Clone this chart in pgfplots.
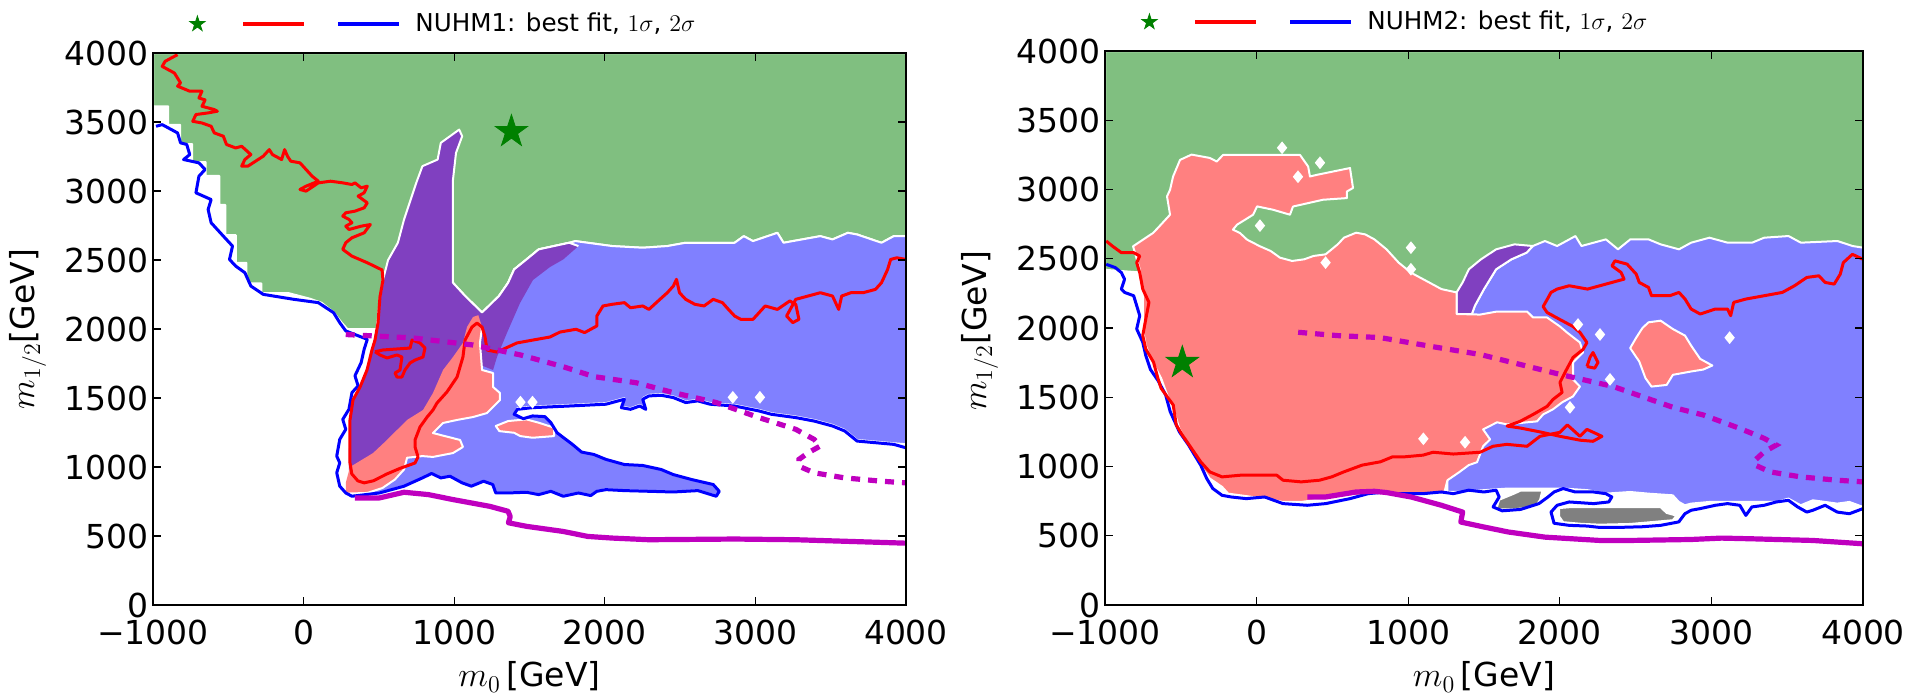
\documentclass[border=0pt]{standalone}
\usepackage{fontspec}
\setmainfont{DejaVu Sans}
\usepackage{pgfplots}
\pgfplotsset{compat=1.18}

\definecolor{cgreen}{RGB}{128,191,128}
\definecolor{cblue}{RGB}{128,128,255}
\definecolor{csalmon}{RGB}{255,128,128}
\definecolor{cpurple}{RGB}{128,64,192}
\definecolor{cgray}{RGB}{128,128,128}
\definecolor{cmag}{RGB}{191,0,191}
\definecolor{cstar}{RGB}{0,128,0}

\pgfdeclareplotmark{fstar}{%
  \pgfpathmoveto{\pgfpointpolar{90}{\pgfplotmarksize}}%
  \pgfpathlineto{\pgfpointpolar{126}{0.382*\pgfplotmarksize}}%
  \pgfpathlineto{\pgfpointpolar{162}{\pgfplotmarksize}}%
  \pgfpathlineto{\pgfpointpolar{198}{0.382*\pgfplotmarksize}}%
  \pgfpathlineto{\pgfpointpolar{234}{\pgfplotmarksize}}%
  \pgfpathlineto{\pgfpointpolar{270}{0.382*\pgfplotmarksize}}%
  \pgfpathlineto{\pgfpointpolar{306}{\pgfplotmarksize}}%
  \pgfpathlineto{\pgfpointpolar{342}{0.382*\pgfplotmarksize}}%
  \pgfpathlineto{\pgfpointpolar{18}{\pgfplotmarksize}}%
  \pgfpathlineto{\pgfpointpolar{54}{0.382*\pgfplotmarksize}}%
  \pgfpathclose
  \pgfusepathqfillstroke
}

% small white diamond-shaped gaps of the contour grid
\pgfdeclareplotmark{wdiam}{%
  \pgfpathmoveto{\pgfqpoint{0pt}{3.2pt}}%
  \pgfpathlineto{\pgfqpoint{2.6pt}{0pt}}%
  \pgfpathlineto{\pgfqpoint{0pt}{-3.2pt}}%
  \pgfpathlineto{\pgfqpoint{-2.6pt}{0pt}}%
  \pgfpathclose
  \pgfusepathqfill
}

\newcommand{\labfont}{\fontsize{16.5}{19}\selectfont}

\pgfplotsset{
  panel/.style={
    scale only axis, anchor=south west,
    xmin=-1000, xmax=4000, ymin=0, ymax=4000,
    xtick={-1000,0,1000,2000,3000,4000},
    xticklabels={−1000,0,1000,2000,3000,4000},
    ytick={0,500,1000,1500,2000,2500,3000,3500,4000},
    yticklabels={0,500,1000,1500,2000,2500,3000,3500,4000},
    tick align=inside, tick pos=both,
    major tick length=4pt,
    axis line style={line width=0.8pt},
    every tick/.style={black, line width=0.6pt},
    ticklabel style={font=\labfont},
    yticklabel style={inner xsep=2.2pt, inner ysep=0pt},
    xticklabel style={inner ysep=0pt, yshift=-7.5pt},
    xlabel={$m_0$\,[GeV]},
    ylabel={$m_{1/2}$[GeV]},
    every axis x label/.style={at={(axis description cs:0.5,0)}, yshift=-36pt, anchor=center, font=\labfont},
    every axis y label/.style={at={(axis description cs:0,0.5)}, xshift=-62.7pt, rotate=90, anchor=center, font=\labfont},
    axis on top,
    legend style={draw=none, fill=none, at={(axis description cs:0,1)}, anchor=west,
      xshift=18pt, yshift=14.5pt, inner xsep=0pt, inner ysep=0pt,
      font=\fontsize{12.3}{14}\selectfont},
  },
  fillreg/.style={draw=white, line width=1pt, line join=round, forget plot},
  cline/.style={line width=1.5pt, line join=round, forget plot},
  gaps/.style={forget plot, only marks, mark=wdiam, mark options={fill=white, draw=none}},
  legimg/.style={legend image code/.code={
    \path[draw=none, fill=none] (0pt,-4pt) rectangle (111pt,4pt);
    \fill[cstar, shift={(4pt,0pt)}] (90:4pt) -- (126:1.53pt) -- (162:4pt) -- (198:1.53pt) -- (234:4pt) -- (270:1.53pt) -- (306:4pt) -- (342:1.53pt) -- (18:4pt) -- (54:1.53pt) -- cycle;
    \draw[red, line width=2pt] (27pt,0pt) -- (57.5pt,0pt);
    \draw[blue, line width=2pt] (74.5pt,0pt) -- (105pt,0pt);
  }},
}

\begin{document}
\begin{tikzpicture}
\useasboundingbox (0,0) rectangle (957.5pt,348pt);

%================ LEFT PANEL: NUHM1 ================
\begin{axis}[panel, at={(76.5pt,45.5pt)}, width=376.5pt, height=276pt]
\addlegendimage{legimg}
\addlegendentry{NUHM1: best fit, $1\sigma$, $2\sigma$}

% green region
\addplot[fillreg, fill=cgreen] coordinates {
(-1000,4000) (4000,4000) (4000,2673) (3919,2673) (3837,2625) (3675,2685) (3614,2697) (3512,2649) (3431,2673) (3187,2625) (3146,2697) (2984,2637) (2923,2673) (2862,2625) (2537,2625) (2415,2601) (2252,2589) (2049,2601) (1805,2637) (1764,2625) (1561,2577) (1480,2504) (1398,2432) (1358,2335) (1297,2239) (1185,2120) (1073,2239) (992,2335) (900,2250) (545,1998) (290,2000) (250,2050) (200,2120) (120,2190) (40,2220) (-100,2260) (-280,2260) (-280,2330) (-380,2330) (-380,2480) (-450,2480) (-450,2680) (-520,2680) (-520,2900) (-560,2900) (-560,3110) (-650,3110) (-650,3210) (-740,3210) (-740,3340) (-820,3340) (-820,3480) (-900,3480) (-900,3614) (-1000,3614)
} -- cycle;

% blue region
\addplot[fillreg, fill=cblue] coordinates {
(487,2014) (1185,2100) (1297,2239) (1358,2335) (1398,2432) (1480,2504) (1561,2577) (1764,2625) (1805,2637) (2049,2601) (2252,2589) (2415,2601) (2537,2625) (2862,2625) (2923,2673) (2984,2637) (3146,2697) (3187,2625) (3431,2673) (3512,2649) (3614,2697) (3675,2685) (3837,2625) (3919,2673) (4000,2673)
(4000,1165) (3919,1172) (3797,1184) (3675,1196) (3593,1269) (3512,1305) (3390,1341) (3268,1366) (3106,1390) (3024,1414) (2862,1450) (2699,1463) (2618,1487) (2537,1475) (2455,1511) (2374,1528) (2293,1523) (2252,1499) (2272,1426) (2232,1450) (2171,1426) (2110,1438) (2130,1499) (2089,1487) (2008,1463) (1764,1450) (1520,1438) (1419,1426) (1398,1382) (1459,1350) (1520,1370) (1602,1365) (1642,1321) (1683,1248) (1785,1164) (1846,1108) (1927,1091) (2008,1055) (2130,1018) (2252,1011) (2374,982) (2455,945) (2577,909) (2720,873) (2760,824) (2740,790) (2618,830) (2455,821) (2293,826) (2130,831) (2008,838) (1947,826) (1907,795) (1825,814) (1724,790) (1642,826) (1561,802) (1480,819) (1358,814) (1276,814) (1256,873) (1195,897) (1114,861) (1053,885) (972,933) (911,921) (850,953) (789,921) (667,861) (504,814) (321,790) (300,1000) (330,1300) (420,1725)
} -- cycle;
\addplot[gaps] coordinates {(1440,1470) (1520,1470) (2850,1505) (3030,1505)};

% purple region
\addplot[forget plot, fill=cpurple, draw=none] coordinates {
(1033,3445) (1053,3397) (1012,3276) (992,3083) (992,2335) (1073,2239) (1185,2120) (1297,2239) (1358,2335) (1398,2432) (1480,2504) (1561,2577) (1764,2625) (1825,2601) (1724,2504) (1636,2449) (1523,2355) (1437,2188) (1350,1971) (1284,1797) (1258,1703) (1150,1750) (1058,1850) (992,1750) (926,1650) (859,1500) (793,1380) (687,1300) (554,1160) (461,1070) (300,975) (300,1100) (308,1290) (328,1486) (375,1580) (421,1725) (454,1870) (487,2014) (507,2232) (527,2355) (561,2500) (626,2625) (667,2794) (748,3059) (789,3180) (890,3228) (911,3349)
} -- cycle;
\addplot[forget plot, white, line width=1pt, line join=round] coordinates {
(487,2014) (507,2232) (527,2355) (561,2500) (626,2625) (667,2794) (748,3059) (789,3180) (890,3228) (911,3349) (1033,3445) (1053,3397) (1012,3276) (992,3083) (992,2335) (1073,2239) (1185,2120) (1297,2239) (1358,2335) (1398,2432) (1480,2504) (1561,2577) (1764,2625) (1825,2601)
};

% salmon regions
\addplot[forget plot, fill=csalmon, draw=none] coordinates {
(1125,2087) (1160,2100) (1185,2014) (1171,1899) (1185,1703) (1258,1681) (1258,1580) (1304,1536) (1304,1486) (1258,1435) (1218,1391) (1125,1362) (1019,1341) (926,1319) (859,1246) (1039,1196) (1058,1145) (992,1101) (859,1073) (789,1079) (687,1067) (667,982) (606,909) (524,848) (423,812) (280,807) (280,885) (308,1000) (461,1101) (554,1196) (687,1341) (793,1413) (859,1536) (926,1703) (992,1797) (1058,1899) (1085,2014)
} -- cycle;
\addplot[forget plot, white, line width=1pt, line join=round] coordinates {
(1185,2014) (1171,1899) (1185,1703) (1258,1681) (1258,1580) (1304,1536) (1304,1486) (1258,1435) (1218,1391) (1125,1362) (1019,1341) (926,1319) (859,1246) (1039,1196) (1058,1145) (992,1101) (859,1073) (789,1079) (687,1067) (667,982) (606,909) (524,848) (423,812) (280,807)
};
\addplot[fillreg, fill=csalmon] coordinates {
(1276,1297) (1358,1333) (1480,1345) (1561,1321) (1663,1285) (1663,1224) (1520,1212) (1439,1224) (1398,1248) (1300,1260)
} -- cycle;

% blue line (2 sigma)
\addplot[cline, blue] coordinates {
(-980,3469) (-939,3481) (-837,3421) (-817,3349) (-776,3337) (-756,3264) (-797,3228) (-695,3204) (-654,3156) (-695,3107) (-715,2987) (-614,2938) (-634,2866) (-614,2770) (-533,2673) (-472,2601) (-492,2504) (-451,2456) (-390,2408) (-350,2311) (-268,2251) (-65,2215) (98,2191) (199,2118) (240,2046) (280,1986) (423,1925) (402,1853) (382,1756) (341,1661) (362,1588) (321,1539) (301,1418) (260,1345) (280,1273) (240,1200) (220,1079) (240,1030) (220,958) (240,861) (280,812) (321,788) (504,812) (667,861) (789,921) (850,953) (911,921) (972,933) (1053,885) (1114,861) (1195,897) (1256,873) (1276,812) (1358,812) (1480,817) (1561,800) (1642,824) (1724,788) (1825,812) (1907,793) (1947,824) (2008,836) (2130,829) (2293,824) (2455,819) (2618,829) (2740,788) (2760,824) (2720,873) (2577,909) (2455,945) (2374,982) (2252,1011) (2130,1018) (2008,1055) (1927,1091) (1846,1108) (1785,1164) (1683,1248) (1642,1321) (1602,1365) (1520,1370) (1459,1350) (1398,1382) (1419,1418) (1520,1430) (1764,1442) (2008,1455) (2089,1479) (2130,1491) (2110,1430) (2171,1418) (2232,1442) (2272,1418) (2252,1491) (2293,1515) (2374,1520) (2455,1503) (2537,1467) (2618,1479) (2699,1455) (2862,1442) (3024,1406) (3106,1382) (3268,1358) (3390,1333) (3512,1297) (3593,1261) (3675,1188) (3797,1176) (3919,1164) (4000,1139)
};

% red line (1 sigma)
\addplot[cline, red] coordinates {
(-837,3988) (-919,3940) (-939,3903) (-858,3855) (-817,3783) (-837,3760) (-756,3723) (-675,3723) (-695,3674) (-654,3660) (-675,3614) (-593,3590) (-573,3578) (-634,3566) (-715,3554) (-736,3505) (-675,3493) (-614,3469) (-593,3421) (-533,3397) (-512,3337) (-451,3312) (-411,3324) (-350,3264) (-390,3228) (-411,3180) (-370,3180) (-268,3252) (-228,3300) (-207,3264) (-146,3228) (-126,3300) (-106,3250) (-85,3216) (-24,3204) (16,3156) (57,3107) (98,3071) (16,3035) (-24,3011) (16,2999) (98,3059) (179,3071) (260,3059) (321,3047) (341,3059) (382,3023) (423,3035) (402,2987) (362,2963) (423,2914) (402,2878) (341,2854) (280,2842) (260,2818) (301,2794) (321,2770) (280,2745) (301,2721) (382,2745) (443,2757) (402,2697) (321,2661) (280,2625) (260,2577) (321,2528) (423,2480) (521,2428) (527,2355) (507,2232) (494,2043) (474,1920) (454,1848) (421,1703) (375,1580) (328,1486) (308,1341) (308,1145) (308,1029) (320,950) (360,900) (402,885) (463,900) (554,950) (640,990) (740,1029) (760,1073) (740,1145) (740,1196) (773,1290) (820,1362) (859,1413) (886,1464) (952,1544) (1019,1652) (1058,1797) (1072,1920) (1118,2014) (1151,2043) (1185,2014) (1205,1942) (1218,1848) (1284,1833) (1417,1899) (1523,1920) (1636,1942) (1703,1978) (1809,1998) (1866,1974) (1947,2022) (1947,2094) (1988,2167) (2049,2179) (2130,2191) (2171,2154) (2252,2167) (2293,2142) (2354,2203) (2415,2263) (2455,2311) (2476,2360) (2496,2263) (2537,2215) (2598,2179) (2659,2167) (2720,2215) (2781,2191) (2821,2142) (2862,2094) (2903,2070) (2984,2070) (3024,2118) (3065,2167) (3146,2142) (3228,2203) (3268,2179) (3289,2070) (3248,2046) (3207,2094) (3268,2215) (3350,2239) (3431,2263) (3512,2239) (3553,2142) (3573,2239) (3634,2263) (3715,2263) (3797,2287) (3837,2335) (3858,2384) (3878,2432) (3898,2504) (3939,2516) (4000,2504)
};
\addplot[cline, red] coordinates {
(474,1835) (527,1848) (707,1862) (720,1920) (773,1899) (806,1862) (793,1797) (740,1775) (707,1754) (673,1703) (653,1652) (620,1652) (607,1681) (640,1703) (653,1797) (620,1812) (554,1790) (507,1812) (474,1835)
};

% magenta lines
\addplot[forget plot, cmag, line width=2.6pt, line join=round] coordinates {
(341,776) (504,776) (667,817) (829,800) (992,764) (1236,715) (1358,679) (1372,640) (1360,596) (1480,570) (1724,533) (1886,497) (2049,485) (2293,473) (2862,478) (3268,473) (4000,448)
};
\addplot[forget plot, cmag, line width=2.6pt, dash pattern=on 4.5pt off 4pt] coordinates {
(280,1960) (727,1935) (1125,1884) (1440,1812) (1723,1727) (1928,1655) (2211,1610) (2455,1539) (2740,1467) (3024,1358) (3268,1273) (3390,1200) (3431,1152) (3350,1103) (3289,1055) (3289,1006) (3390,958) (3593,921) (3837,897) (4000,885)
};

% best fit
\addplot[forget plot, only marks, mark=fstar, mark size=8.5pt, mark options={fill=cstar, draw=cstar, line width=0.4pt}] coordinates {(1380,3430)};
\end{axis}

%================ RIGHT PANEL: NUHM2 ================
\begin{axis}[panel, at={(552.5pt,45.5pt)}, width=379pt, height=277pt,
  every axis y label/.append style={xshift=-1.3pt}]
\addlegendimage{legimg}
\addlegendentry{NUHM2: best fit, $1\sigma$, $2\sigma$}

% green region
\addplot[fillreg, fill=cgreen] coordinates {
(-1000,4000) (4000,4000) (4000,2480) (1420,2380) (1319,2200) (1200,2240) (-1000,2420)
} -- cycle;
\addplot[gaps] coordinates {(168,3301) (418,3193) (22,2739) (1018,2580) (1018,2424)};

% blue region
\addplot[fillreg, fill=cblue] coordinates {
(1259,816) (1259,2101) (1420,2101) (1440,2161) (1500,2281) (1580,2424) (1681,2496) (1781,2544) (1822,2592) (1902,2628) (1982,2592) (2063,2640) (2103,2664) (2143,2592) (2304,2640) (2384,2568) (2465,2640) (2585,2640) (2665,2604) (2786,2568) (2866,2616) (2987,2652) (3107,2616) (3268,2616) (3348,2652) (3509,2664) (3590,2616) (3831,2628) (3931,2592) (4000,2580) (4000,708) (3910,744) (3830,732) (3750,744) (3669,756) (3589,720) (3508,768) (3428,744) (3267,744) (3106,744) (2986,744) (2866,732) (2825,720) (2785,744) (2745,792) (2584,804) (2464,816) (2303,804) (2183,829) (2022,841) (1902,841) (1660,841) (1499,829) (1339,816)
} -- cycle;
\addplot[gaps] coordinates {(2120,2025) (2265,1953) (2331,1629) (2067,1427) (3120,1930)};

% purple region
\addplot[fillreg, fill=cpurple] coordinates {
(1319,2257) (1359,2329) (1400,2424) (1480,2496) (1580,2568) (1701,2604) (1822,2592) (1781,2544) (1681,2496) (1580,2424) (1500,2281) (1440,2161) (1420,2101) (1319,2101)
} -- cycle;

% salmon region
\addplot[fillreg, fill=csalmon] coordinates {
(-815,2590) (-683,2686) (-650,2724) (-571,2818) (-591,2950) (-571,2998) (-551,3094) (-505,3214) (-429,3252) (-309,3228) (-263,3202) (-221,3250) (286,3250) (340,3166) (352,3094) (398,3106) (616,3155) (636,3011) (596,2986) (596,2938) (438,2926) (240,2877) (220,2818) (108,2854) (3,2878) (-23,2818) (-129,2746) (-156,2710) (-110,2686) (-63,2638) (22,2590) (93,2556) (154,2508) (234,2484) (314,2496) (375,2520) (455,2532) (495,2568) (535,2604) (576,2652) (656,2688) (716,2676) (777,2640) (817,2604) (857,2568) (897,2520) (937,2472) (1018,2400) (1058,2376) (1138,2329) (1219,2281) (1319,2257) (1319,2101) (1474,2097) (1586,2119) (1784,2119) (1824,2076) (1916,2076) (2001,2011) (2047,1968) (2133,1895) (2153,1823) (2087,1751) (2087,1629) (2133,1578) (2087,1506) (2015,1463) (1955,1413) (1890,1376) (1850,1326) (1784,1319) (1652,1304) (1586,1319) (1494,1268) (1540,1196) (1494,1146) (1454,1031) (1399,1010) (1339,961) (1259,901) (1239,816) (1098,804) (857,804) (696,792) (455,768) (294,744) (174,744) (53,768) (-188,804) (-228,853) (-309,913) (-389,1034) (-429,1106) (-510,1275) (-530,1348) (-550,1420) (-590,1517) (-630,1638) (-690,1760) (-731,1873) (-751,1993) (-751,2233) (-771,2424)
} -- cycle;
\addplot[gaps] coordinates {(273,3092) (455,2472) (1375,1175) (1100,1200)};
\addplot[fillreg, fill=csalmon] coordinates {
(2585,2041) (2665,2053) (2745,1993) (2826,1945) (2866,1873) (2926,1777) (3006,1729) (2946,1700) (2866,1686) (2746,1662) (2705,1589) (2605,1577) (2565,1638) (2524,1758) (2464,1855) (2504,1930) (2545,2000)
} -- cycle;

% gray regions
\addplot[fillreg, fill=cgray] coordinates {
(1580,690) (1600,760) (1700,805) (1741,826) (1885,826) (1870,760) (1842,712) (1700,690)
} -- cycle;
\addplot[fillreg, fill=cgray] coordinates {
(1995,700) (2062,706) (2665,706) (2705,665) (2770,645) (2745,612) (2600,598) (2464,585) (2263,580) (2142,586) (2022,598) (1995,640)
} -- cycle;

% blue line (2 sigma)
\addplot[cline, blue] coordinates {
(-992,2460) (-932,2436) (-892,2400) (-871,2352) (-892,2281) (-871,2257) (-811,2233) (-791,2161) (-771,2089) (-791,1993) (-751,1897) (-731,1801) (-700,1700) (-650,1620) (-600,1517) (-570,1396) (-530,1300) (-510,1251) (-449,1155) (-409,1082) (-369,1010) (-329,913) (-289,841) (-228,792) (-168,780) (-68,768) (53,780) (174,732) (334,720) (455,732) (616,768) (736,804) (857,816) (897,804) (1098,804) (1218,816) (1298,804) (1399,829) (1499,816) (1580,829) (1600,780) (1560,708) (1620,680) (1741,690) (1862,732) (1922,780) (1962,816) (2022,841) (2102,816) (2223,816) (2303,804) (2343,780) (2323,744) (2223,732) (2062,744) (1982,720) (1942,671) (1962,590) (2062,575) (2182,570) (2263,560) (2383,560) (2544,565) (2665,575) (2785,600) (2825,659) (2866,684) (2926,696) (3026,720) (3106,732) (3187,720) (3227,647) (3267,708) (3348,720) (3428,744) (3508,756) (3569,708) (3629,671) (3669,684) (3750,720) (3830,671) (3910,659) (4000,696)
};

% red line (1 sigma)
\addplot[cline, red] coordinates {
(-992,2628) (-952,2592) (-892,2544) (-811,2544) (-771,2520) (-791,2472) (-771,2400) (-751,2281) (-710,2185) (-731,2065) (-751,1945) (-731,1849) (-680,1753) (-650,1633) (-630,1565) (-550,1444) (-530,1300) (-490,1227) (-429,1130) (-369,1034) (-309,961) (-228,925) (-108,937) (13,937) (133,937) (174,901) (294,889) (415,901) (495,925) (575,961) (696,1010) (817,1034) (897,1070) (977,1070) (1098,1082) (1164,1103) (1298,1090) (1474,1103) (1559,1146) (1650,1160) (1784,1146) (1869,1218) (2001,1247) (2050,1300) (2133,1218) (2179,1268) (2278,1218) (2219,1182) (2133,1190) (2001,1218) (1869,1250) (1738,1278) (1652,1292) (1738,1326) (1824,1376) (1916,1434) (1955,1484) (2015,1535) (2001,1607) (2034,1679) (2087,1787) (2153,1845) (2179,1895) (2133,1968) (2087,2011) (2001,2061) (1916,2112) (1890,2155) (1916,2205) (1942,2257) (1982,2281) (2062,2305) (2183,2281) (2344,2329) (2424,2353) (2404,2401) (2344,2449) (2364,2485) (2444,2461) (2504,2389) (2524,2329) (2585,2293) (2605,2233) (2725,2233) (2786,2257) (2826,2209) (2866,2137) (2926,2101) (3026,2137) (3106,2137) (3127,2089) (3147,2185) (3227,2209) (3348,2233) (3468,2257) (3548,2305) (3629,2365) (3709,2377) (3750,2329) (3810,2317) (3850,2389) (3870,2472) (3930,2532) (4000,2496)
};
\addplot[cline, red] coordinates {
(2179,1722) (2200,1790) (2219,1823) (2252,1751) (2230,1710) (2179,1722)
};

% magenta lines
\addplot[forget plot, cmag, line width=2.6pt, line join=round] coordinates {
(334,780) (455,780) (656,816) (777,821) (857,812) (1018,780) (1219,720) (1359,671) (1347,599) (1500,563) (1661,527) (1902,490) (2264,466) (2465,466) (2866,473) (3067,483) (3267,478) (3669,466) (4000,442)
};
\addplot[forget plot, cmag, line width=2.6pt, dash pattern=on 4.5pt off 4pt] coordinates {
(274,1969) (535,1945) (814,1931) (1179,1862) (1474,1809) (2001,1665) (2351,1578) (2747,1427) (2946,1372) (3187,1275) (3348,1203) (3428,1155) (3348,1106) (3288,1046) (3288,1010) (3388,961) (3589,925) (3830,901) (4000,889)
};

% best fit
\addplot[forget plot, only marks, mark=fstar, mark size=8.5pt, mark options={fill=cstar, draw=cstar, line width=0.4pt}] coordinates {(-490,1750)};
\end{axis}
\end{tikzpicture}
\end{document}
